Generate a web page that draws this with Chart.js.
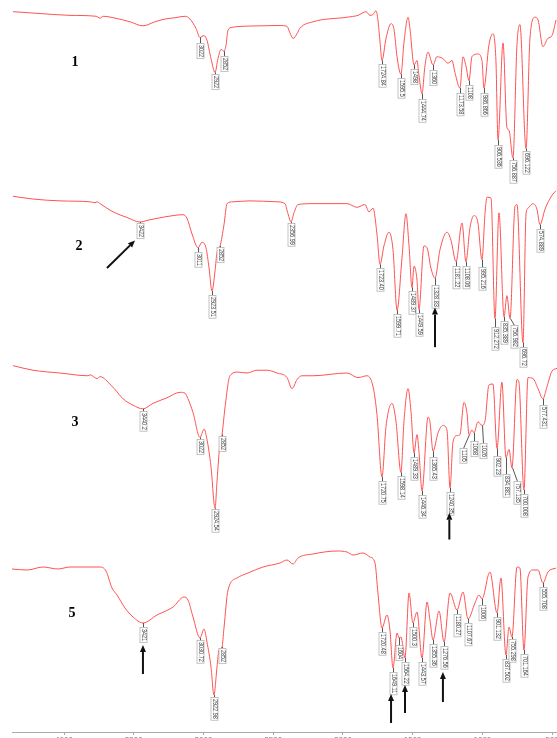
<!DOCTYPE html>
<html>
<head>
<meta charset="utf-8">
<script src="https://cdn.jsdelivr.net/npm/chart.js@4.4.1/dist/chart.umd.min.js"></script>
<style>
html,body{margin:0;padding:0;width:557px;height:738px;overflow:hidden;background:#fff}
.pnl{position:absolute;left:12px}
</style>
</head>
<body>
<div class="pnl" style="top:-15px"><canvas id="ftir-1" width="545" height="222"></canvas></div>
<div class="pnl" style="top:165px"><canvas id="ftir-2" width="545" height="222"></canvas></div>
<div class="pnl" style="top:350px"><canvas id="ftir-3" width="545" height="222"></canvas></div>
<div class="pnl" style="top:532px"><canvas id="ftir-5" width="545" height="216"></canvas></div>
<script>
// ── wavenumber axis (cm-1), drawn right to left
const X_MIN = 465, X_MAX = 4373;
const X_TICKS = [4000, 3500, 3000, 2500, 2000, 1500, 1000, 500];

// ── spectrum 1
const S1_WN = [4366,4172,3957,3770,3742,3720,3634,3527,3434,3348,3276,3204,3132,3097,3054,3025,2996,2975,2946,2917,2896,2874,2853,2838,2824,2795,2738,2595,2451,2401,2380,2358,2329,2308,2215,1971,1892,1835,1806,1784,1763,1749,1734,1720,1691,1655,1634,1612,1584,1562,1533,1519,1490,1469,1455,1433,1412,1390,1354,1326,1283,1247,1218,1197,1161,1139,1118,1096,1075,1032,1003,989,953,924,903,888,852,824,809,781,752,731,687,659,623,601,566,530,501,472];
const S1_T  = [85.5,84.5,83.5,83,82,83,82,80,77.8,80,81.5,82.2,83,81.5,76.5,71.5,72.5,70,60,52.5,60,65,64,67.5,75.5,77,77.5,77.8,78,77.5,74,71,73.5,76.5,80,82.5,83.5,85.5,83.5,84,86,81,69,59,71,79,76,61,51.5,69,82.5,76,56.5,59,51,41,56,63.5,56.5,61,60,57.5,59,52.5,44,61,56,48,61,62.5,59,44,67.5,73.5,59,16,68.5,22.5,21,6,67.5,78.5,11,71,82.5,81,66.5,71,72.5,81];
const S1_PEAKS = [[3025,'3022'],[2917,'2922'],[2853,'2852'],[1720,'1724.84'],[1584,'1595.5'],[1490,'1498'],[1433,'1444.74'],[1354,'1360'],[1161,'1173.58'],[1096,'1108'],[989,'986.866'],[888,'906.536'],[781,'756.887'],[687,'696.122']];
const S1_ARROWS = [];

// ── spectrum 2
const S2_WN = [4366,4222,4029,3814,3778,3763,3742,3692,3634,3548,3455,3398,3333,3218,3147,3118,3082,3039,3011,2982,2960,2939,2917,2903,2881,2853,2831,2788,2666,2473,2416,2394,2372,2351,2322,2215,1971,1899,1842,1813,1784,1756,1734,1706,1670,1641,1612,1577,1548,1526,1505,1490,1469,1455,1419,1397,1369,1340,1304,1254,1225,1189,1146,1118,1089,1060,1032,1003,981,967,938,910,881,845,824,802,766,752,709,687,673,637,609,587,551,501,472];
const S2_T  = [83,81.5,80.5,80,79.5,80,79,76.5,74,71.5,69,70,71,72.5,73,71,62.5,55,58,55,44,31.5,42.5,52.5,56,67.5,79,80,80.5,80,79,73.5,69,74,78.5,79,79,77,78.5,74.5,76.5,62.5,46,56,63.5,54,21,49,73.5,56,33.5,45,37.5,21.5,56,55,44,38.5,54,63.5,59,47.5,68.5,47.5,66,72.5,68.5,48.5,74,82.5,82,16.5,74,17.5,29,16.5,77.5,78.5,3.5,73.5,76.5,79,76,67.5,76,83.5,86];
const S2_PEAKS = [[3455,'3422'],[3039,'3011'],[2939,'2923.51'],[2881,'2852'],[2372,'2356.99'],[1734,'1723.40'],[1612,'1599.71'],[1505,'1489.37'],[1455,'1449.59'],[1340,'1328.83'],[1189,'1181.22'],[1118,'1108.06'],[1003,'995.216'],[910,'912.272'],[845,'835.389'],[802,'756.982'],[709,'696.72'],[587,'574.889']];
const S2_ARROWS = [[3692,44,3491,59],[1340,1,1340,22.5]];

// ── spectrum 3
const S3_WN = [4366,4222,4029,3828,3814,3763,3742,3720,3684,3634,3577,3505,3434,3362,3262,3168,3132,3111,3075,3025,2996,2975,2946,2917,2903,2881,2867,2846,2810,2752,2688,2616,2545,2473,2401,2365,2329,2294,2215,1971,1892,1827,1784,1756,1720,1691,1648,1620,1584,1562,1533,1512,1490,1469,1455,1433,1390,1376,1354,1318,1283,1254,1232,1211,1182,1161,1132,1111,1096,1075,1060,1032,1003,981,953,924,895,860,831,809,788,752,738,702,673,637,601,566,537,501,465];
const S3_T  = [91.5,89,87.5,86,86.5,84.5,85.5,85,82.5,78.5,73.5,70,68,71,74,77,76.5,73.5,66,52.5,57,51.5,36.5,14,28.5,50,54,68.5,86,88,87.5,89,89,87.5,85,79,84,86,86,87.5,85,86,80,65,31,58.5,71,61.5,33.5,61.5,79,66.5,44,54,45,23.5,63.5,61,45,55,59,56.5,25,50,53.5,54,71.5,66,54,56.5,55,61,59,61.5,81,81.5,46.5,82.5,41.5,46,36,84,82.5,24,85,84.5,79,73.5,80,88.5,90];
const S3_PEAKS = [[3434,'3440.2'],[3025,'3022'],[2917,'2924.54'],[2867,'2852'],[1720,'1720.75'],[1584,'1598.14'],[1490,'1489.33'],[1433,'1446.34'],[1354,'1365.43'],[1232,'1240.35'],[1096,'1105'],[1060,'1068'],[1003,'1026'],[895,'902.23'],[831,'834.881'],[788,'757.135'],[702,'700.008'],[566,'577.431']];
const S3_ARROWS = [[1237,-3,1237,11.5]];

// ── spectrum 5
const S5_WN = [4373,4265,4151,4043,3957,3742,3699,3656,3620,3563,3505,3434,3333,3218,3140,3111,3075,3025,2996,2975,2946,2925,2903,2889,2867,2853,2824,2760,2681,2573,2451,2401,2358,2322,2215,2043,1971,1928,1856,1806,1770,1749,1720,1684,1663,1641,1612,1598,1584,1555,1526,1498,1469,1433,1397,1376,1354,1311,1275,1232,1182,1139,1103,1053,1024,1003,946,895,867,831,809,788,752,731,702,673,637,601,566,530,472];
const S5_T  = [83,82.5,84,83,84,84,82,73.5,70,63.5,59,56,60,64,69,67.5,59,48.5,53,46.5,34,20,34,42.5,44,53.5,72.5,78.5,81,84,86,87.5,85.5,88.5,90.5,92,91.5,90,91,89,86,71,53.5,60,52.5,33.5,51,48.5,49,38.5,71,56,61.5,38.5,66.5,57.5,47.5,62,46.5,71,62.5,71.5,58,66,70,68,81.5,61,78.5,40,54,49,84,83.5,42.5,79,82.5,82.5,76,81.5,83.5];
const S5_PEAKS = [[3434,'3421'],[3025,'3030.72'],[2925,'2922.98'],[2867,'2852'],[1720,'1720.48'],[1641,'1649.11'],[1598,'1604'],[1555,'1564.22'],[1498,'1500.3'],[1433,'1443.57'],[1354,'1355.36'],[1275,'1276.56'],[1182,'1180.27'],[1103,'1107.67'],[1003,'1006'],[895,'901.132'],[831,'837.502'],[788,'755.298'],[702,'701.164'],[566,'555.708']];
const S5_ARROWS = [[3434,30.5,3434,45],[1655,6,1655,20.5],[1555,11,1555,25],[1283,16.5,1283,31.5]];

// sample numbers and where they sit (wavenumber, %T of their own panel)
const TAGS = ['1','2','3','5'];
const TAG_AT = [[3921,58],[3892,56],[3921,60.5],[3943,61]];

// peak tags that hang off the default short leader
const NUDGE = {
  '1:3022':{len:6}, '1:2852':{len:5}, '1:1444.74':{len:5}, '1:1360':{len:5}, '1:1173.58':{len:5},
  '1:986.866':{len:5}, '1:906.536':{len:5}, '1:756.887':{len:2}, '1:696.122':{len:2}, '1:2922':{len:2},
  '2:3422':{len:1}, '2:2852':{len:1}, '2:2356.99':{len:1}, '2:1328.83':{len:7}, '2:995.216':{len:7},
  '2:912.272':{len:8}, '2:756.982':{dx:4, len:6},
  '3:3440.2':{len:2}, '3:3022':{len:2}, '3:2924.54':{len:1}, '3:2852':{len:1}, '3:1365.43':{len:6},
  '3:1105':{dx:-6, len:13}, '3:1068':{len:8}, '3:1026':{dx:1, len:18}, '3:902.23':{len:8},
  '3:834.881':{len:16}, '3:757.135':{dx:5, len:13}, '3:577.431':{len:6},
  '5:3030.72':{len:2}, '5:2922.98':{len:2}, '5:2852':{len:1}, '5:1604':{len:7}, '5:1006':{len:6}, '5:755.298':{len:2}
};

const LINE_RED = 'rgb(255,82,82)';
const TAG_SQUEEZE = 0.78;   // tag text is a condensed face in the original

const ftirMarks = {
  id: 'ftirMarks',
  afterDatasetsDraw(chart, args, o) {
    const {ctx} = chart;
    const xs = chart.scales.x, ys = chart.scales.y;
    const pts = chart.data.datasets[0].data;
    ctx.save();

    // peak tags
    ctx.font = '7px "Liberation Sans", "DejaVu Sans", sans-serif';
    o.peaks.forEach(([wn, txt]) => {
      const p = pts.reduce((a, b) => Math.abs(b.x - wn) < Math.abs(a.x - wn) ? b : a);
      const px = Math.round(xs.getPixelForValue(p.x)) + 0.5;
      const py = ys.getPixelForValue(p.y);
      const n = NUDGE[o.tag + ':' + txt] || {};
      const len = n.len ?? 4, dx = n.dx || 0;
      const bx = px + dx, by = Math.round(py + len) + 0.5;
      ctx.strokeStyle = '#555'; ctx.lineWidth = 1;
      ctx.beginPath(); ctx.moveTo(px, py); ctx.lineTo(bx, by); ctx.stroke();
      const w = ctx.measureText(txt).width * TAG_SQUEEZE + 3;
      ctx.fillStyle = 'rgba(255,255,255,0.92)';
      ctx.fillRect(bx - 3.5, by, 7, w);
      ctx.strokeStyle = '#b4b4b4'; ctx.lineWidth = 0.8;
      ctx.strokeRect(bx - 3.5, by, 7, w);
      ctx.save();
      ctx.translate(bx, by + 1.5);
      ctx.rotate(Math.PI / 2);
      ctx.scale(TAG_SQUEEZE, 1);
      ctx.fillStyle = '#444'; ctx.textBaseline = 'middle'; ctx.textAlign = 'left';
      ctx.fillText(txt, 0, 0);
      ctx.restore();
    });

    // black arrows
    o.arrows.forEach(([w0, t0, w1, t1]) => {
      const x0 = xs.getPixelForValue(w0), y0 = ys.getPixelForValue(t0);
      const x1 = xs.getPixelForValue(w1), y1 = ys.getPixelForValue(t1);
      const a = Math.atan2(y1 - y0, x1 - x0);
      const hl = 7, hw = 3;
      const hx = x1 - hl * Math.cos(a), hy = y1 - hl * Math.sin(a);
      ctx.strokeStyle = '#111'; ctx.fillStyle = '#111'; ctx.lineWidth = 2;
      ctx.beginPath(); ctx.moveTo(x0, y0); ctx.lineTo(hx, hy); ctx.stroke();
      ctx.beginPath();
      ctx.moveTo(x1, y1);
      ctx.lineTo(hx + hw * Math.sin(a), hy - hw * Math.cos(a));
      ctx.lineTo(hx - hw * Math.sin(a), hy + hw * Math.cos(a));
      ctx.closePath(); ctx.fill();
    });

    // sample number
    ctx.font = 'bold 14px "Liberation Serif", "DejaVu Serif", serif';
    ctx.fillStyle = '#000'; ctx.textAlign = 'center'; ctx.textBaseline = 'middle';
    ctx.fillText(o.label, xs.getPixelForValue(o.labelAt[0]), ys.getPixelForValue(o.labelAt[1]));
    ctx.restore();
  }
};

function makeSpectrum(id, tag, wn, t, peaks, arrows, idx, withAxis) {
  const yMin = withAxis ? 1.5 : 0;
  return new Chart(document.getElementById(id), {
    type: 'line',
    data: {
      datasets: [{
        data: wn.map((x, i) => ({x, y: t[i]})),
        borderColor: LINE_RED, borderWidth: 1, pointRadius: 0,
        cubicInterpolationMode: 'monotone', fill: false, clip: false
      }]
    },
    options: {
      responsive: false, animation: false, devicePixelRatio: 1, events: [],
      layout: { padding: { left: 0, right: 0, top: 0, bottom: withAxis ? 0 : 22 } },
      plugins: {
        legend: { display: false }, tooltip: { enabled: false },
        ftirMarks: { tag, peaks, arrows, label: TAGS[idx], labelAt: TAG_AT[idx] }
      },
      scales: {
        x: {
          type: 'linear', min: X_MIN, max: X_MAX, reverse: true, display: withAxis,
          afterBuildTicks: s => { s.ticks = X_TICKS.map(v => ({value: v})); },
          afterFit: s => { s.height = 16; s.paddingLeft = 0; s.paddingRight = 0; },
          grid: { drawOnChartArea: false, tickLength: 3, color: '#aaa' },
          border: { color: '#aaa', width: 1 },
          ticks: { color: '#777', padding: 0, maxRotation: 0, autoSkip: false,
                   font: { size: 8, family: 'Liberation Sans' }, callback: v => String(v) }
        },
        y: { display: false, min: yMin, max: yMin + 100 }
      }
    },
    plugins: [ftirMarks]
  });
}

makeSpectrum('ftir-1', '1', S1_WN, S1_T, S1_PEAKS, S1_ARROWS, 0, false);
makeSpectrum('ftir-2', '2', S2_WN, S2_T, S2_PEAKS, S2_ARROWS, 1, false);
makeSpectrum('ftir-3', '3', S3_WN, S3_T, S3_PEAKS, S3_ARROWS, 2, false);
makeSpectrum('ftir-5', '5', S5_WN, S5_T, S5_PEAKS, S5_ARROWS, 3, true);
</script>
</body>
</html>
